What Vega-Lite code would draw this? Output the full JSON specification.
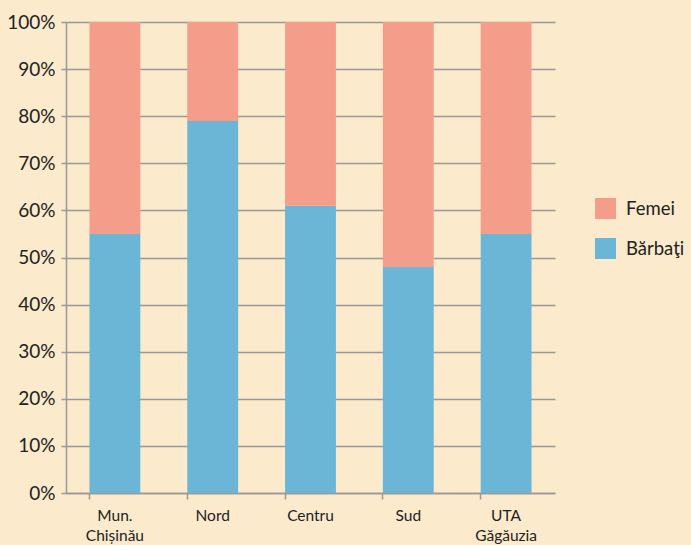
{
  "$schema": "https://vega.github.io/schema/vega-lite/v6.json",
  "width": 489,
  "height": 471,
  "autosize": {"type": "none"},
  "padding": {"left": 66, "top": 22, "right": 136, "bottom": 52},
  "background": "#FBEACB",
  "config": {
    "view": {"stroke": null},
    "font": "Lato"
  },
  "data": {
    "values": [
      {"regiune": "Mun. Chișinău", "sex": "Bărbaţi", "valoare": 0.55, "ord": 1},
      {"regiune": "Mun. Chișinău", "sex": "Femei", "valoare": 0.45, "ord": 2},
      {"regiune": "Nord", "sex": "Bărbaţi", "valoare": 0.79, "ord": 1},
      {"regiune": "Nord", "sex": "Femei", "valoare": 0.21, "ord": 2},
      {"regiune": "Centru", "sex": "Bărbaţi", "valoare": 0.61, "ord": 1},
      {"regiune": "Centru", "sex": "Femei", "valoare": 0.39, "ord": 2},
      {"regiune": "Sud", "sex": "Bărbaţi", "valoare": 0.48, "ord": 1},
      {"regiune": "Sud", "sex": "Femei", "valoare": 0.52, "ord": 2},
      {"regiune": "UTA Găgăuzia", "sex": "Bărbaţi", "valoare": 0.55, "ord": 1},
      {"regiune": "UTA Găgăuzia", "sex": "Femei", "valoare": 0.45, "ord": 2}
    ]
  },
  "mark": {"type": "bar"},
  "encoding": {
    "x": {
      "field": "regiune",
      "type": "nominal",
      "sort": ["Mun. Chișinău", "Nord", "Centru", "Sud", "UTA Găgăuzia"],
      "scale": {"paddingInner": 0.48, "paddingOuter": 0.24},
      "axis": {
        "title": null,
        "labelAngle": 0,
        "labelExpr": "split(datum.label, ' ')",
        "labelFontSize": 15.5,
        "labelColor": "#222222",
        "labelPadding": 9,
        "labelLineHeight": 20,
        "bandPosition": 0,
        "ticks": true,
        "tickSize": 6,
        "tickColor": "#999999",
        "tickWidth": 1.5,
        "domainColor": "#999999",
        "domainWidth": 1.5,
        "grid": false
      }
    },
    "y": {
      "field": "valoare",
      "type": "quantitative",
      "stack": "zero",
      "scale": {"domain": [0, 1]},
      "axis": {
        "title": null,
        "format": ".0%",
        "values": [0, 0.1, 0.2, 0.3, 0.4, 0.5, 0.6, 0.7, 0.8, 0.9, 1],
        "labelFontSize": 19,
        "labelColor": "#222222",
        "labelPadding": 6,
        "tickSize": 5,
        "tickColor": "#999999",
        "tickWidth": 1.5,
        "domainColor": "#999999",
        "domainWidth": 1.5,
        "gridColor": "#999999",
        "gridWidth": 1.5
      }
    },
    "color": {
      "field": "sex",
      "type": "nominal",
      "scale": {"domain": ["Femei", "Bărbaţi"], "range": ["#F59D8B", "#6BB6D6"]},
      "legend": {
        "title": null,
        "orient": "none",
        "legendX": 529,
        "legendY": 176,
        "symbolType": "square",
        "symbolSize": 441,
        "symbolStrokeWidth": 0,
        "labelFontSize": 18.5,
        "labelColor": "#222222",
        "rowPadding": 19,
        "labelOffset": 10
      }
    },
    "order": {"field": "ord", "type": "quantitative"}
  }
}
